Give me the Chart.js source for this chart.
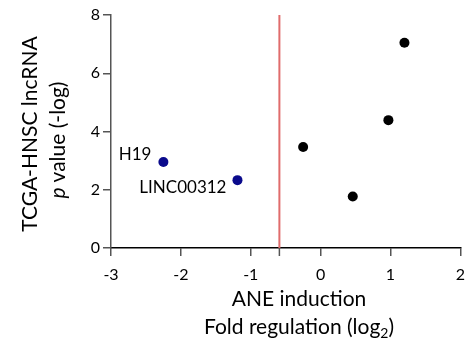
<!DOCTYPE html>
<html>
<head>
<meta charset="utf-8">
<script src="https://cdn.jsdelivr.net/npm/chart.js@4"></script>
<style>
  html, body { margin: 0; padding: 0; background: #fff; }
  #wrap { width: 474px; height: 343px; }
</style>
</head>
<body>
<div id="wrap"><canvas id="mychart" width="474" height="343"></canvas></div>
<script>
// data
const hitNames = ['H19', 'LINC00312'];
const hitFold = [-2.25, -1.19];
const hitP = [2.95, 2.33];

const otherFold = [1.20, 0.97, -0.25, 0.46];
const otherP = [7.05, 4.39, 3.47, 1.77];

const cutoff = -0.59;
const xTicks = [-3, -2, -1, 0, 1, 2];
const yTicks = [0, 2, 4, 6, 8];

const FONT = 'Lato, "Open Sans", sans-serif';

// point labels + axis titles drawn by hand (italic p, subscript 2)
const textPlugin = {
  id: 'texts',
  afterDraw(chart) {
    const ctx = chart.ctx;
    const xs = chart.scales.x;
    const ys = chart.scales.y;
    ctx.save();
    ctx.fillStyle = '#000';

    // labels next to the blue points
    ctx.font = '17px ' + FONT;
    ctx.textAlign = 'right';
    ctx.textBaseline = 'alphabetic';
    const offs = [[-12, -2], [-11, 13]];
    hitNames.forEach((name, i) => {
      const px = xs.getPixelForValue(hitFold[i]);
      const py = ys.getPixelForValue(hitP[i]);
      ctx.fillText(name, px + offs[i][0], py + offs[i][1]);
    });

    // small tick under the cutoff line
    ctx.strokeStyle = '#555';
    ctx.lineWidth = 1.5;
    const cx = xs.getPixelForValue(cutoff);
    ctx.beginPath();
    ctx.moveTo(cx, chart.chartArea.bottom);
    ctx.lineTo(cx, chart.chartArea.bottom + 8);
    ctx.stroke();

    // x title
    ctx.font = '21px ' + FONT;
    ctx.textAlign = 'center';
    const tx = 299;
    ctx.fillText('ANE induction', tx, 306);
    const a = 'Fold regulation (log';
    const sub = '2';
    const b = ')';
    ctx.font = '21px ' + FONT;
    const wa = ctx.measureText(a).width;
    const wb = ctx.measureText(b).width;
    ctx.font = '14px ' + FONT;
    const ws = ctx.measureText(sub).width;
    let sx = tx - (wa + ws + wb) / 2;
    ctx.textAlign = 'left';
    ctx.font = '21px ' + FONT;
    ctx.fillText(a, sx, 334);
    ctx.font = '14px ' + FONT;
    ctx.fillText(sub, sx + wa, 338);
    ctx.font = '21px ' + FONT;
    ctx.fillText(b, sx + wa + ws, 334);

    // y title, rotated
    ctx.save();
    ctx.translate(37, 134);
    ctx.rotate(-Math.PI / 2);
    ctx.textAlign = 'center';
    ctx.font = '21px ' + FONT;
    ctx.fillText('TCGA-HNSC lncRNA', 0, 0);
    ctx.restore();

    ctx.save();
    ctx.translate(65, 140);
    ctx.rotate(-Math.PI / 2);
    ctx.textAlign = 'left';
    ctx.font = 'italic 21px ' + FONT;
    const p = 'p';
    const wp = ctx.measureText(p + ' ').width;
    ctx.font = '21px ' + FONT;
    const rest = 'value (-log)';
    const wr = ctx.measureText(rest).width;
    const startX = -(wp + wr) / 2;
    ctx.font = 'italic 21px ' + FONT;
    ctx.fillText(p, startX, 0);
    ctx.font = '21px ' + FONT;
    ctx.fillText(rest, startX + wp, 0);
    ctx.restore();

    ctx.restore();
  }
};

new Chart(document.getElementById('mychart'), {
  type: 'scatter',
  data: {
    datasets: [
      {
        label: 'cutoff',
        data: [{ x: cutoff, y: 0 }, { x: cutoff, y: 8 }],
        showLine: true,
        borderColor: '#e06c6c',
        borderWidth: 2,
        pointRadius: 0
      },
      {
        label: 'highlighted',
        data: hitFold.map((v, i) => ({ x: v, y: hitP[i] })),
        backgroundColor: '#0a0a8c',
        borderColor: '#0a0a8c',
        pointRadius: 5,
        borderWidth: 0
      },
      {
        label: 'other',
        data: otherFold.map((v, i) => ({ x: v, y: otherP[i] })),
        backgroundColor: '#000',
        borderColor: '#000',
        pointRadius: 5,
        borderWidth: 0
      }
    ]
  },
  options: {
    responsive: false,
    animation: false,
    events: [],
    layout: { padding: { left: 0, top: 15, right: 13, bottom: 0 } },
    plugins: { legend: { display: false }, tooltip: { enabled: false } },
    scales: {
      x: {
        type: 'linear',
        min: -3,
        max: 2,
        afterFit: (s) => { s.height = 95; },
        afterBuildTicks: (s) => { s.ticks = xTicks.map((v) => ({ value: v })); },
        ticks: { font: { family: FONT, size: 16 }, color: '#000', padding: 9 },
        grid: { drawOnChartArea: false, tickLength: 8, color: '#555', lineWidth: 1.5 },
        border: { color: '#000', width: 1.5 }
      },
      y: {
        min: 0,
        max: 8,
        afterFit: (s) => { s.width = 111; },
        afterBuildTicks: (s) => { s.ticks = yTicks.map((v) => ({ value: v })); },
        ticks: { font: { family: FONT, size: 16 }, color: '#000', padding: 3 },
        grid: { drawOnChartArea: false, tickLength: 8, color: '#555', lineWidth: 1.5 },
        border: { color: '#555', width: 1.5 }
      }
    }
  },
  plugins: [textPlugin]
});
</script>
</body>
</html>
